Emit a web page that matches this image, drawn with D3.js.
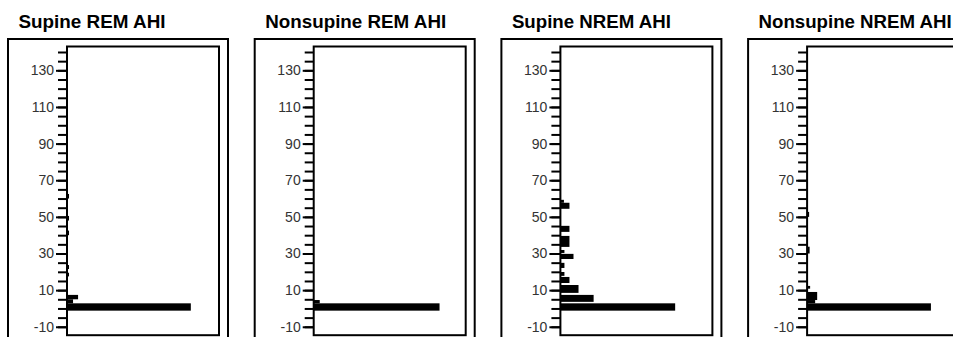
<!DOCTYPE html>
<html>
<head>
<meta charset="utf-8">
<script src="https://cdn.jsdelivr.net/npm/d3@7"></script>
<style>
    body { margin: 0; background: #fff; }
    .title { font-family: "Liberation Sans", Arial, sans-serif; font-weight: bold; font-size: 18px; fill: #000; }
    .tick text { font-family: "Liberation Sans", Arial, sans-serif; font-size: 14px; fill: #333; }
    .tick line { stroke: #000; stroke-width: 2; }
</style>
</head>
<body>
<div id="graph"></div>
<script>
// AHI histograms, each bin = [low AHI, high AHI, count]
const titles = ["Supine REM AHI", "Nonsupine REM AHI", "Supine NREM AHI", "Nonsupine NREM AHI"];
const titleWidths = [147, 181, 159, 193];

const supineRem = [
    [-1.2, 2.8, 123], [2.8, 5.0, 6], [5.0, 7.4, 11],
    [17.5, 19.5, 2], [21.5, 23.7, 2], [40, 42.5, 2], [48, 50.5, 2], [60, 62.5, 2]
];
const nonsupineRem = [
    [-1.2, 2.8, 125], [2.8, 4.6, 6]
];
const supineNrem = [
    [-1.2, 2.8, 114], [3.6, 7.4, 33], [8.5, 12.8, 18], [13.9, 17.2, 9],
    [17.8, 19.9, 4], [22.1, 24.9, 4], [27, 29.8, 13], [30.3, 31.9, 4],
    [33.6, 39.6, 9], [41.8, 45.1, 9], [54.4, 57.7, 9], [57.7, 59.3, 3.5]
];
const nonsupineNrem = [
    [-1.2, 2.8, 123], [2.8, 4.6, 8], [4.6, 9.0, 10], [10.8, 12.3, 3],
    [30, 33.7, 2.5], [50, 52.7, 2]
];
const panelData = [supineRem, nonsupineRem, supineNrem, nonsupineNrem];

const majorTicks = [-10, 10, 30, 50, 70, 90, 110, 130];
const minorTicks = d3.range(-10, 141, 5);

const W = 953, H = 337;
const svg = d3.select("#graph").append("svg")
    .attr("width", W)
    .attr("height", H);

const y = d3.scaleLinear().domain([-14.6, 143]).range([335.2, 46.5]);

panelData.forEach((bins, i) => {
    const outerX = 8 + i * 246.7;
    const innerX = outerX + 59;
    const g = svg.append("g");

    g.append("text")
        .attr("class", "title")
        .attr("x", outerX + 10.5)
        .attr("y", 27.5)
        .attr("textLength", titleWidths[i])
        .attr("lengthAdjust", "spacingAndGlyphs")
        .text(titles[i]);

    g.append("rect")
        .attr("x", outerX).attr("y", 39)
        .attr("width", 220).attr("height", 310)
        .attr("fill", "none").attr("stroke", "#000").attr("stroke-width", 2);

    const x = d3.scaleLinear().domain([0, 150]).range([innerX, innerX + 151]);

    g.selectAll(".bar")
        .data(bins)
        .enter().append("rect")
        .attr("class", "bar")
        .attr("x", x(0))
        .attr("y", d => y(d[1]))
        .attr("width", d => x(d[2]) - x(0))
        .attr("height", d => y(d[0]) - y(d[1]))
        .attr("fill", "#000");

    g.append("rect")
        .attr("x", innerX).attr("y", 46.5)
        .attr("width", 152).attr("height", 288.7)
        .attr("fill", "none").attr("stroke", "#000").attr("stroke-width", 2);

    const minor = g.append("g")
        .attr("transform", "translate(" + innerX + ",0)")
        .call(d3.axisLeft(y).tickValues(minorTicks).tickSize(9).tickFormat(""));
    minor.select(".domain").remove();

    const major = g.append("g")
        .attr("transform", "translate(" + innerX + ",0)")
        .call(d3.axisLeft(y).tickValues(majorTicks).tickSize(11).tickPadding(2)
            .tickFormat(d => String(d)));
    major.select(".domain").remove();
    major.attr("font-family", null).attr("font-size", null);
});
</script>
</body>
</html>
